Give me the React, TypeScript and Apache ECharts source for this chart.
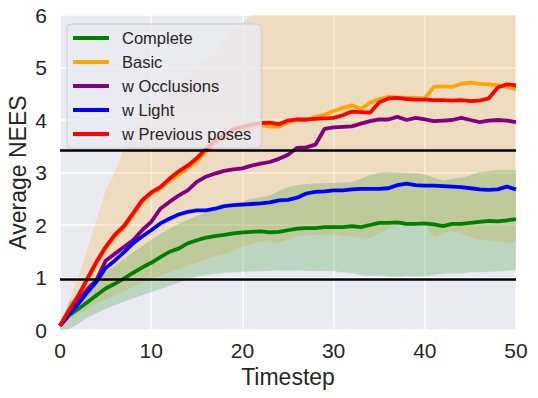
import React, { useEffect, useRef } from "react";
import * as echarts from "echarts";

const timesteps = Array.from({ length: 51 }, (_, i) => String(i));

const complete = [
  0.08, 0.28, 0.40, 0.53, 0.66, 0.79, 0.88, 0.98, 1.09, 1.19,
  1.28, 1.39, 1.49, 1.55, 1.65, 1.71, 1.76, 1.79, 1.81, 1.84,
  1.86, 1.87, 1.88, 1.86, 1.87, 1.90, 1.93, 1.94, 1.94, 1.96,
  1.96, 1.96, 1.98, 1.96, 2.00, 2.04, 2.04, 2.05, 2.02, 2.02,
  2.03, 2.01, 1.98, 2.02, 2.02, 2.04, 2.06, 2.08, 2.07, 2.09,
  2.11,
];
const basic = [
  0.08, 0.36, 0.63, 0.95, 1.27, 1.55, 1.78, 1.95, 2.18, 2.44,
  2.60, 2.70, 2.84, 2.96, 3.08, 3.22, 3.40, 3.55, 3.66, 3.74,
  3.80, 3.86, 3.90, 3.88, 3.87, 3.96, 4.01, 3.99, 4.06, 4.10,
  4.17, 4.23, 4.28, 4.21, 4.33, 4.40, 4.44, 4.43, 4.42, 4.42,
  4.41, 4.63, 4.64, 4.63, 4.69, 4.71, 4.69, 4.68, 4.66, 4.63,
  4.59,
];
const occlusions = [
  0.08, 0.35, 0.55, 0.78, 0.95, 1.32, 1.45, 1.58, 1.71, 1.90,
  2.06, 2.31, 2.44, 2.56, 2.66, 2.82, 2.92, 2.98, 3.03, 3.06,
  3.08, 3.13, 3.17, 3.20, 3.26, 3.34, 3.47, 3.48, 3.53, 3.83,
  3.86, 3.87, 3.88, 3.93, 3.98, 4.01, 4.01, 4.06, 4.00, 4.04,
  4.01, 3.98, 3.99, 4.00, 4.04, 4.00, 3.96, 3.99, 4.00, 3.99,
  3.96,
];
const light = [
  0.08, 0.30, 0.50, 0.72, 0.92, 1.18, 1.32, 1.48, 1.65, 1.78,
  1.90, 2.03, 2.12, 2.20, 2.25, 2.28, 2.28, 2.31, 2.36, 2.38,
  2.39, 2.40, 2.41, 2.43, 2.47, 2.48, 2.52, 2.60, 2.63, 2.64,
  2.66, 2.66, 2.68, 2.69, 2.69, 2.69, 2.70, 2.76, 2.79, 2.76,
  2.75, 2.75, 2.74, 2.73, 2.72, 2.70, 2.68, 2.67, 2.68, 2.73,
  2.68,
];
const previousPoses = [
  0.08, 0.38, 0.65, 0.98, 1.30, 1.58, 1.81, 1.98, 2.22, 2.47,
  2.62, 2.72, 2.88, 3.02, 3.13, 3.27, 3.45, 3.60, 3.72, 3.82,
  3.87, 3.91, 3.94, 3.95, 3.92, 3.99, 4.01, 4.01, 4.02, 4.03,
  4.04, 4.09, 4.16, 4.15, 4.14, 4.34, 4.41, 4.42, 4.40, 4.39,
  4.39, 4.38, 4.38, 4.37, 4.38, 4.36, 4.37, 4.41, 4.62, 4.68,
  4.66,
];
const completeLow = [
  0.00, 0.02, 0.12, 0.24, 0.32, 0.40, 0.47, 0.54, 0.60, 0.66,
  0.72, 0.78, 0.84, 0.90, 0.97, 1.02, 1.05, 1.07, 1.09, 1.10,
  1.11, 1.12, 1.12, 1.13, 1.14, 1.13, 1.14, 1.13, 1.12, 1.13,
  1.12, 1.10, 1.08, 1.05, 1.03, 1.04, 1.02, 1.01, 1.03, 1.02,
  1.02, 1.05, 1.07, 1.08, 1.08, 1.10, 1.10, 1.11, 1.12, 1.13,
  1.14,
];
const completeHigh = [
  0.10, 0.55, 0.65, 0.80, 0.95, 1.10, 1.22, 1.35, 1.48, 1.60,
  1.72, 1.83, 1.93, 2.02, 2.10, 2.17, 2.24, 2.30, 2.36, 2.41,
  2.45, 2.50, 2.53, 2.56, 2.65, 2.72, 2.76, 2.78, 2.79, 2.80,
  2.80, 2.81, 2.82, 2.88, 2.95, 3.00, 3.01, 3.00, 2.99, 2.99,
  2.96, 2.90, 2.85, 2.88, 2.90, 2.95, 3.01, 3.03, 3.05, 3.05,
  3.05,
];
const basicLow = [
  0.05, 0.20, 0.30, 0.40, 0.50, 0.58, 0.66, 0.74, 0.82, 0.90,
  0.96, 1.03, 1.10, 1.16, 1.22, 1.28, 1.34, 1.40, 1.45, 1.50,
  1.58, 1.64, 1.68, 1.67, 1.66, 1.72, 1.79, 1.80, 1.81, 1.82,
  1.82, 1.80, 1.78, 1.76, 1.75, 1.85, 1.92, 1.98, 1.99, 2.00,
  2.01, 1.76, 1.82, 1.88, 1.82, 1.77, 1.72, 1.70, 1.68, 1.67,
  1.66,
];
const basicHigh = [
  0.10, 0.55, 1.00, 1.55, 2.10, 2.65, 3.00, 3.45, 3.80, 4.05,
  4.25, 4.40, 4.55, 4.70, 4.85, 5.00, 5.15, 5.30, 5.50, 5.70,
  5.85, 6.00, 6.10, 6.10, 6.08, 6.20, 6.23, 6.18, 6.31, 6.38,
  6.52, 6.66, 6.78, 6.66, 6.91, 6.95, 6.96, 6.88, 6.85, 6.84,
  6.81, 7.50, 7.46, 7.38, 7.56, 7.65, 7.66, 7.66, 7.64, 7.59,
  7.52,
];
const boundLines = [0.96, 3.42];

const seriesNames = ["Complete", "Basic", "w Occlusions", "w Light", "w Previous poses"];
const seriesColors = ["#008000", "#FFA500", "#800080", "#0000FF", "#FF0000"];
const seriesValues = [complete, basic, occlusions, light, previousPoses];

const FONT = "'Liberation Sans', Arial, sans-serif";
const TXT = "#262626";

export default function App() {
  const ref = useRef<HTMLDivElement>(null);
  useEffect(() => {
    if (!ref.current) return;
    const chart = echarts.init(ref.current, undefined, { renderer: "svg" });
    const hidden = { opacity: 0, width: 0 };
    const bandBase = (stack: string, low: number[]) => ({
      type: "line",
      stack,
      data: low,
      symbol: "none",
      silent: true,
      lineStyle: hidden,
      z: 1,
    });
    const band = (stack: string, low: number[], high: number[], color: string, extra: any = {}) => ({
      type: "line",
      stack,
      data: high.map((h, i) => h - low[i]),
      symbol: "none",
      silent: true,
      lineStyle: hidden,
      areaStyle: { color, opacity: 1 },
      z: 1,
      ...extra,
    });
    const option: any = {
      animation: false,
      backgroundColor: "#ffffff",
      grid: {
        left: 60,
        right: 22,
        top: 15,
        bottom: 68,
        show: true,
        backgroundColor: "#EAEAF2",
        borderWidth: 0,
        outerBoundsMode: "none",
      },
      xAxis: {
        type: "category",
        data: timesteps,
        boundaryGap: false,
        name: "Timestep",
        nameLocation: "middle",
        nameGap: 34,
        nameTextStyle: { fontSize: 23, color: TXT, fontFamily: FONT },
        axisLine: { show: false },
        axisTick: { show: false },
        axisLabel: { interval: 9, fontSize: 21, color: TXT, fontFamily: FONT, margin: 10 },
        splitLine: { show: true, interval: 9, lineStyle: { color: "#ffffff", width: 1.5 } },
      },
      yAxis: {
        type: "value",
        min: 0,
        max: 6,
        interval: 1,
        name: "Average NEES",
        nameLocation: "middle",
        nameGap: 31,
        nameMoveOverlap: false,
        nameTextStyle: { fontSize: 23, color: TXT, fontFamily: FONT },
        axisLine: { show: false },
        axisTick: { show: false },
        axisLabel: { fontSize: 21, color: TXT, fontFamily: FONT, margin: 13 },
        splitLine: { show: true, lineStyle: { color: "#ffffff", width: 1.5 } },
      },
      legend: {
        data: seriesNames,
        orient: "vertical",
        left: 67,
        top: 24,
        icon: "rect",
        itemWidth: 36,
        itemHeight: 4,
        itemGap: 6,
        padding: [5, 10, 5, 6],
        backgroundColor: "rgba(234,234,242,0.8)",
        borderColor: "#cccccc",
        borderWidth: 1,
        borderRadius: 4,
        textStyle: {
          fontSize: 16.5,
          lineHeight: 18,
          color: TXT,
          fontFamily: FONT,
          padding: [0, 0, 0, 8],
        },
      },
      series: [
        bandBase("basicBand", basicLow),
        band("basicBand", basicLow, basicHigh, "rgba(255,165,0,0.2)"),
        bandBase("completeBand", completeLow),
        band("completeBand", completeLow, completeHigh, "rgba(0,128,0,0.2)", {
          markLine: {
            silent: true,
            symbol: "none",
            label: { show: false },
            lineStyle: { color: "#000000", width: 2.5, type: "solid" },
            data: boundLines.map((v) => ({ yAxis: v })),
          },
        }),
        ...seriesNames.map((name, k) => ({
          type: "line",
          name,
          data: seriesValues[k],
          color: seriesColors[k],
          symbol: "none",
          lineStyle: { color: seriesColors[k], width: 3.8 },
          z: 3,
        })),
      ],
    };
    chart.setOption(option);
    return () => chart.dispose();
  }, []);
  return (
    <div
      ref={ref}
      style={{ position: "fixed", left: 0, top: 0, width: 538, height: 398 }}
    />
  );
}
